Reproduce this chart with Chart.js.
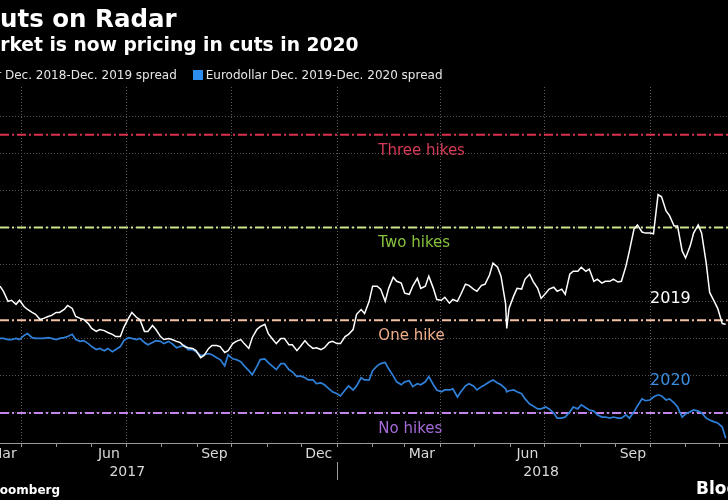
<!DOCTYPE html>
<html><head><meta charset="utf-8">
<script src="https://cdn.jsdelivr.net/npm/chart.js@4.4.1/dist/chart.umd.min.js"></script>
<style>
html,body{margin:0;padding:0;background:#000;}
body{width:728px;height:500px;overflow:hidden;position:relative;font-family:"DejaVu Sans",sans-serif;}
.t{position:absolute;white-space:nowrap;color:#fff;}
#title{left:-18px;top:5px;font-size:24.5px;font-weight:bold;line-height:28px;}
#sub{left:-31px;top:33.5px;font-size:18.7px;font-weight:bold;line-height:22px;}
#legend{left:-73px;top:68px;font-size:12px;line-height:14px;color:#e6e6e6;display:flex;align-items:center;}
.item{display:flex;align-items:center;}
.item + .item{margin-left:16px;}
.sw{display:inline-block;width:10px;height:10px;margin-right:3px;}
#source{left:-69px;top:483px;font-size:12px;font-weight:bold;line-height:14px;}
#logo{left:696px;top:478px;font-size:17px;font-weight:bold;line-height:20px;}
canvas{position:absolute;left:0;top:0;}
</style></head>
<body>
<canvas id="c" width="728" height="500"></canvas>
<div class="t" id="title">Cuts on Radar</div>
<div class="t" id="sub">Market is now pricing in cuts in 2020</div>
<div class="t" id="legend"><span class="item"><span class="sw" style="background:#ffffff"></span>Eurodollar Dec. 2018-Dec. 2019 spread</span><span class="item"><span class="sw" style="background:#2d8cf0"></span>Eurodollar Dec. 2019-Dec. 2020 spread</span></div>
<div class="t" id="source">Source: Bloomberg</div>
<div class="t" id="logo">Bloomberg</div>
<script>
// ---- data ----
const dates = [
'2017-03-13','2017-03-16','2017-03-20','2017-03-23','2017-03-27','2017-03-30','2017-04-03','2017-04-06','2017-04-10','2017-04-13',
'2017-04-17','2017-04-20','2017-04-24','2017-04-27','2017-05-01','2017-05-04','2017-05-08','2017-05-11','2017-05-15','2017-05-18',
'2017-05-22','2017-05-25','2017-05-29','2017-06-01','2017-06-05','2017-06-08','2017-06-12','2017-06-15','2017-06-19','2017-06-22',
'2017-06-26','2017-06-29','2017-07-03','2017-07-06','2017-07-10','2017-07-13','2017-07-17','2017-07-20','2017-07-24','2017-07-27',
'2017-07-31','2017-08-03','2017-08-07','2017-08-10','2017-08-14','2017-08-17','2017-08-21','2017-08-24','2017-08-28','2017-08-31',
'2017-09-04','2017-09-07','2017-09-11','2017-09-14','2017-09-18','2017-09-21','2017-09-25','2017-09-28','2017-10-02','2017-10-05',
'2017-10-09','2017-10-12','2017-10-16','2017-10-19','2017-10-23','2017-10-26','2017-10-30','2017-11-02','2017-11-06','2017-11-09',
'2017-11-13','2017-11-16','2017-11-20','2017-11-23','2017-11-27','2017-11-30','2017-12-04','2017-12-07','2017-12-11','2017-12-14',
'2017-12-18','2017-12-21','2017-12-25','2017-12-28','2018-01-01','2018-01-04','2018-01-08','2018-01-11','2018-01-15','2018-01-18',
'2018-01-22','2018-01-25','2018-01-29','2018-02-01','2018-02-05','2018-02-08','2018-02-12','2018-02-15','2018-02-19','2018-02-22',
'2018-02-26','2018-03-01','2018-03-05','2018-03-08','2018-03-12','2018-03-15','2018-03-19','2018-03-22','2018-03-26','2018-03-29',
'2018-04-02','2018-04-05','2018-04-09','2018-04-12','2018-04-16','2018-04-19','2018-04-23','2018-04-26','2018-04-30','2018-05-03',
'2018-05-07','2018-05-10','2018-05-14','2018-05-17','2018-05-21','2018-05-24','2018-05-28','2018-05-29','2018-05-31','2018-06-04',
'2018-06-07','2018-06-11','2018-06-14','2018-06-18','2018-06-21','2018-06-25','2018-06-28','2018-07-02','2018-07-05','2018-07-09',
'2018-07-12','2018-07-16','2018-07-19','2018-07-23','2018-07-26','2018-07-30','2018-08-02','2018-08-06','2018-08-09','2018-08-13',
'2018-08-16','2018-08-20','2018-08-23','2018-08-27','2018-08-30','2018-09-03','2018-09-06','2018-09-10','2018-09-13','2018-09-17',
'2018-09-20','2018-09-24','2018-09-27','2018-10-01','2018-10-04','2018-10-08','2018-10-11','2018-10-15','2018-10-18','2018-10-22',
'2018-10-25','2018-10-29','2018-11-01','2018-11-05','2018-11-08','2018-11-12','2018-11-15','2018-11-19','2018-11-22','2018-11-26',
'2018-11-29','2018-12-03','2018-12-06'
];
// Eurodollar Dec. 2018-Dec. 2019 spread (bp)
const spread2019 = [
34.2,32.8,30.1,30.4,29.3,30.4,28.7,27.9,27.1,26.6,
25.2,25.5,26.0,26.3,27.1,27.1,27.9,29.0,28.2,26.0,
25.5,25.2,24.1,22.8,22.0,22.5,22.2,21.7,21.2,20.6,
20.6,23.1,25.5,27.1,25.8,25.2,22.0,22.0,23.6,22.5,
20.6,19.8,20.1,19.8,19.3,19.0,17.9,17.6,17.4,16.8,
14.9,15.5,17.4,18.2,18.2,17.9,16.3,16.8,18.7,19.3,
19.8,18.7,17.4,20.3,22.5,23.3,23.9,21.4,19.8,18.7,
20.1,20.1,18.4,18.4,16.8,17.9,19.5,18.4,17.4,17.6,
17.1,17.6,19.0,19.3,18.7,18.7,20.6,21.2,22.5,26.6,
27.9,26.8,30.1,34.2,34.2,33.4,30.1,33.6,36.6,35.5,
35.0,32.3,32.0,34.2,36.3,33.6,34.2,36.9,33.6,30.6,
30.4,31.2,29.6,30.6,30.1,32.0,34.7,34.4,33.4,32.8,
34.4,34.7,37.2,40.4,39.3,36.9,29.5,22.8,28.2,31.5,
33.6,33.4,36.1,37.4,35.5,33.6,30.9,32.3,33.4,33.9,
32.8,33.4,32.0,37.4,38.2,38.2,39.3,38.2,38.8,35.5,
36.1,35.0,35.5,35.5,36.1,35.3,35.5,39.6,43.7,49.6,
50.7,48.8,48.5,48.5,48.3,58.9,58.3,54.5,53.2,50.4,
50.4,43.7,41.8,45.0,48.5,50.7,48.5,40.4,32.5,30.1,
28.2,24.1,23.9
];
// Eurodollar Dec. 2019-Dec. 2020 spread (bp)
const spread2020 = [
20.1,20.1,19.8,19.8,20.1,19.8,20.9,21.4,20.3,20.1,
20.1,20.1,20.3,20.1,19.8,20.1,20.3,20.6,21.2,19.8,
19.3,19.5,18.7,17.9,17.1,17.4,16.8,17.4,16.5,17.1,
17.9,19.5,20.3,20.1,19.8,20.1,19.0,18.4,19.0,19.5,
19.3,18.7,19.3,18.7,17.6,17.9,18.2,17.1,17.1,16.5,
15.5,15.7,16.0,15.7,14.9,14.4,12.7,15.7,14.6,14.4,
13.8,12.7,11.4,10.3,12.5,14.4,14.6,13.6,12.5,11.7,
13.3,13.3,11.7,11.1,9.8,10.0,9.5,8.9,8.9,7.9,
8.1,7.6,6.5,5.7,5.2,4.6,6.2,7.3,6.2,7.3,
9.5,8.9,8.9,11.4,12.7,13.3,13.6,11.9,10.0,8.4,
7.6,8.4,8.7,7.1,7.9,7.6,8.4,9.8,7.6,6.2,
5.7,6.2,6.2,6.5,4.3,5.7,7.3,7.9,7.3,6.2,
7.1,7.6,8.4,8.9,8.1,7.6,6.5,5.7,6.0,6.2,
5.7,5.2,3.8,2.4,1.9,1.1,1.1,1.6,1.1,0.0,
-1.4,-1.4,-1.1,0.3,1.6,1.1,2.2,1.4,0.8,0.5,
-0.5,-1.1,-1.1,-1.4,-1.1,-1.4,-1.4,-0.5,-1.4,0.3,
1.9,3.8,3.3,3.5,4.3,4.9,4.6,3.5,3.8,2.7,
1.6,-1.1,-0.3,0.3,0.8,0.5,0.0,-1.4,-1.9,-2.4,
-2.7,-3.8,-6.8
];
const seriesNames = ['Eurodollar Dec. 2018-Dec. 2019 spread','Eurodollar Dec. 2019-Dec. 2020 spread'];
const seriesTags = ['2019','2020'];
const seriesTagDate = '2018-10-01';
const seriesTagValues = [30.9, 8.7];

const hikeLevels = [75, 50, 25, 0];
const hikeLabels = ['Three hikes','Two hikes','One hike','No hikes'];
const hikeLabelDate = '2018-02-06';

const xRange = ['2017-03-13','2018-12-08'];
const monthStarts = ['2017-04-01','2017-05-01','2017-06-01','2017-07-01','2017-08-01','2017-09-01','2017-10-01','2017-11-01','2017-12-01',
  '2018-01-01','2018-02-01','2018-03-01','2018-04-01','2018-05-01','2018-06-01','2018-07-01','2018-08-01','2018-09-01','2018-10-01','2018-11-01','2018-12-01'];
const monthLabelDates = ['2017-03-16','2017-06-16','2017-09-16','2017-12-16','2018-03-16','2018-06-16','2018-09-16'];
const monthLabels = ['Mar','Jun','Sep','Dec','Mar','Jun','Sep'];
const yearLabelDates = ['2017-07-02','2018-06-28'];
const yearLabels = ['2017','2018'];
const yearBoundary = '2018-01-01';
const yGrid = [0,10,20,30,40,50,60,70,80];

// ---- styles ----
const lineColors = ['#ffffff','#2f80d8'];
const hikeLineColors = ['#d9304f','#cce48c','#f5c2a6','#c384ea'];
const hikeTextColors = ['#d63a56','#86c23e','#eeae8a','#a66ad8'];
const tagColors = ['#ffffff','#3b8de0'];

const T = s => Date.parse(s);
const xMin = T(xRange[0]), xMax = T(xRange[1]);

function buildXTicks(){
  const t = [{value:xMin, kind:'edge', label:''}, {value:xMax, kind:'edge', label:''}];
  monthStarts.forEach(d => { const m = +d.slice(5,7); t.push({value:T(d), kind:(m%3===1)?'q':'m', label:''}); });
  monthLabelDates.forEach((d,i) => t.push({value:T(d), kind:'l', label:monthLabels[i]}));
  yearLabelDates.forEach((d,i) => t.push({value:T(d), kind:'y', label:['', yearLabels[i]]}));
  t.sort((a,b)=>a.value-b.value);
  return t;
}

const datasets = [
  {label:seriesNames[0], data:dates.map((d,i)=>({x:T(d),y:spread2019[i]})), borderColor:lineColors[0], borderWidth:1.5, pointRadius:0, tension:0, order:1},
  {label:seriesNames[1], data:dates.map((d,i)=>({x:T(d),y:spread2020[i]})), borderColor:lineColors[1], borderWidth:1.7, pointRadius:0, tension:0, order:2}
];
hikeLevels.forEach((lvl,i)=>{
  datasets.push({label:hikeLabels[i], data:[{x:xMin,y:lvl},{x:xMax,y:lvl}], borderColor:hikeLineColors[i], borderWidth:2, borderDash:[9,3,2,3], pointRadius:0, order:10});
});

const annot = {
  id:'annot',
  afterDatasetsDraw(chart){
    const {ctx, scales:{x,y}} = chart;
    ctx.save();
    ctx.textAlign = 'left'; ctx.textBaseline = 'middle';
    ctx.font = '15px "DejaVu Sans"';
    hikeLabels.forEach((s,i)=>{
      ctx.fillStyle = hikeTextColors[i];
      ctx.fillText(s, x.getPixelForValue(T(hikeLabelDate)), y.getPixelForValue(hikeLevels[i]) + 16);
    });
    ctx.font = '16px "DejaVu Sans"';
    seriesTags.forEach((s,i)=>{
      ctx.fillStyle = tagColors[i];
      ctx.fillText(s, x.getPixelForValue(T(seriesTagDate)), y.getPixelForValue(seriesTagValues[i]));
    });
    ctx.restore();
  },
  afterDraw(chart){
    const {ctx, scales:{x}} = chart;
    const px = Math.round(x.getPixelForValue(T(yearBoundary))) + 0.5;
    ctx.save();
    ctx.strokeStyle = '#9a9a9a'; ctx.lineWidth = 1;
    ctx.beginPath(); ctx.moveTo(px, x.top + 19); ctx.lineTo(px, x.top + 37); ctx.stroke();
    ctx.restore();
  }
};

new Chart(document.getElementById('c'), {
  type:'line',
  data:{datasets},
  plugins:[annot],
  options:{
    responsive:false, animation:false, devicePixelRatio:1,
    layout:{padding:{top:87,left:0,right:0,bottom:20.6}, autoPadding:false},
    plugins:{legend:{display:false}, tooltip:{enabled:false}},
    scales:{
      x:{type:'linear', min:xMin, max:xMax,
        afterBuildTicks:s=>{ s.ticks = buildXTicks(); },
        ticks:{autoSkip:false, maxRotation:0, minRotation:0, color:'#d9d9d9', padding:-2,
          font:{family:'DejaVu Sans', size:14, lineHeight:1.3},
          callback:(v,i,t)=> t[i].label},
        grid:{color:c=> (c.tick && c.tick.kind==='q') ? '#5c5c5c' : 'rgba(0,0,0,0)',
          tickColor:c=> (c.tick && (c.tick.kind==='q'||c.tick.kind==='m')) ? '#9a9a9a' : 'rgba(0,0,0,0)',
          tickLength:4, lineWidth:1, drawTicks:true, drawOnChartArea:true},
        border:{display:true, color:'#9a9a9a', width:1, dash:[1,2]}
      },
      y:{type:'linear', min:-8.1, max:87.9,
        afterBuildTicks:s=>{ s.ticks = yGrid.map(v=>({value:v})); },
        ticks:{display:false},
        grid:{color:'#4f4f4f', lineWidth:1, drawTicks:false},
        border:{display:false, dash:[1,2]}
      }
    }
  }
});
</script>
</body></html>
